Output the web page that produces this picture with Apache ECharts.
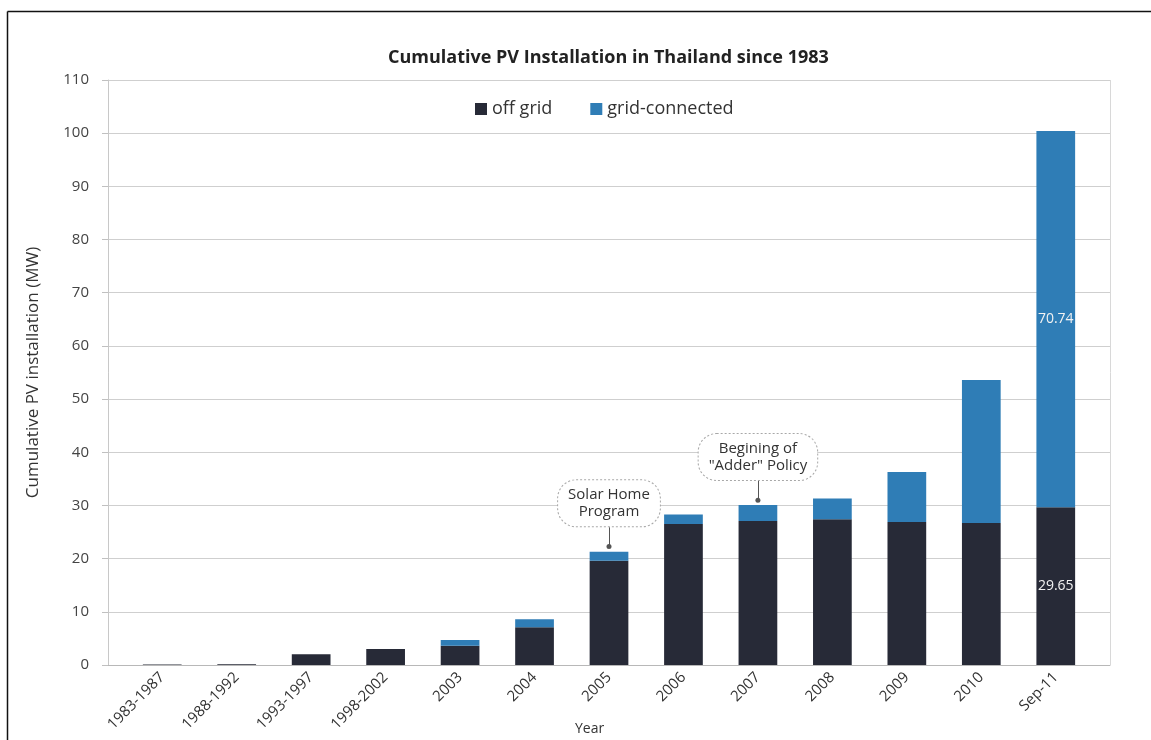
<!DOCTYPE html>
<html>
<head>
<meta charset="utf-8">
<script src="https://cdn.jsdelivr.net/npm/echarts@6/dist/echarts.min.js"></script>
<style>
  html, body { margin: 0; padding: 0; background: #ffffff; }
  #chart { width: 1151px; height: 740px; }
</style>
</head>
<body>
<div id="chart"></div>
<script>
// Periods shown on the horizontal axis
const categories = ['1983-1987', '1988-1992', '1993-1997', '1998-2002', '2003', '2004',
  '2005', '2006', '2007', '2008', '2009', '2010', 'Sep-11'];

// Cumulative installed capacity, MW
const offGrid       = [0.1, 0.15, 2.0, 3.0, 3.6, 7.1, 19.6, 26.5, 27.1, 27.4, 26.9, 26.7, 29.65];
const gridConnected = [0.0, 0.0, 0.0, 0.0, 1.1, 1.5, 1.7, 1.8, 3.0, 3.9, 9.4, 26.9, 70.74];

// Value axis range and step
const yMin = 0;
const yMax = 110;
const yStep = 10;

// Callouts: category, height of the bubble centre, bubble bottom, tip of the pointer
const calloutCats   = ['2005', '2007'];
const calloutTexts  = ['Solar Home\nProgram', 'Begining of\n"Adder" Policy'];
const calloutCentre = [30.4, 39.1];
const calloutTop    = [25.9, 34.7];
const calloutTip    = [22.3, 31.0];

const FONT = '"Open Sans", "Noto Sans", sans-serif';
const DARK = '#272a37';
const BLUE = '#2f7db6';

const last = categories.length - 1;
const labelled = (arr) => arr.map((v, i) => i === last ? { value: v, label: { show: true } } : v);

const chart = echarts.init(document.getElementById('chart'), null, { renderer: 'canvas' });

chart.setOption({
  backgroundColor: '#ffffff',
  animation: false,
  textStyle: { fontFamily: FONT },
  title: {
    text: 'Cumulative PV Installation in Thailand since 1983',
    left: 383,
    top: 44,
    textStyle: { fontFamily: FONT, fontSize: 18, fontWeight: 'bold', color: '#222' }
  },
  legend: {
    data: ['off grid', 'grid-connected'],
    left: 470,
    top: 95,
    icon: 'rect',
    itemWidth: 12,
    itemHeight: 12,
    itemGap: 38,
    textStyle: { fontFamily: FONT, fontSize: 18, color: '#333' }
  },
  grid: [
    // bars
    { left: 125, right: 58, top: 80, bottom: 75 },
    // frame, value axis and horizontal rules
    { left: 108, right: 41, top: 80, bottom: 75 }
  ],
  xAxis: [
    {
      gridIndex: 0,
      type: 'category',
      data: categories,
      axisLine: { show: false },
      axisTick: { show: false },
      axisLabel: { rotate: 45, fontSize: 15, color: '#333', margin: 10, fontFamily: FONT }
    },
    {
      gridIndex: 1,
      type: 'value',
      min: 0, max: 1, interval: 1,
      axisLine: { show: true, lineStyle: { color: '#b8b8b8' } },
      axisTick: { show: false },
      axisLabel: { show: false },
      splitLine: { show: true, lineStyle: { color: '#d8d8d8' } }
    }
  ],
  yAxis: [
    {
      gridIndex: 0,
      type: 'value',
      min: yMin, max: yMax, interval: yStep,
      show: false
    },
    {
      gridIndex: 1,
      type: 'value',
      min: yMin, max: yMax, interval: yStep,
      name: 'Cumulative PV installation (MW)',
      nameLocation: 'middle',
      nameGap: 66,
      nameTextStyle: { fontFamily: FONT, fontSize: 17, color: '#333' },
      axisLine: { show: true, lineStyle: { color: '#c8c8c8' } },
      axisTick: { show: true, length: 6, lineStyle: { color: '#c0c0c0' } },
      axisLabel: { fontSize: 15, color: '#444', margin: 19, fontFamily: FONT },
      splitLine: { show: true, lineStyle: { color: '#cfcfcf' } }
    }
  ],
  series: [
    {
      name: 'off grid',
      type: 'bar',
      stack: 'pv',
      xAxisIndex: 0,
      yAxisIndex: 0,
      barWidth: '52%',
      data: labelled(offGrid),
      itemStyle: { color: DARK },
      label: { show: false, position: 'inside', color: '#f2f2f2', fontSize: 14, fontFamily: FONT, formatter: '{c}' }
    },
    {
      name: 'grid-connected',
      type: 'bar',
      stack: 'pv',
      xAxisIndex: 0,
      yAxisIndex: 0,
      barWidth: '52%',
      data: labelled(gridConnected),
      itemStyle: { color: BLUE },
      label: { show: false, position: 'inside', color: '#f2f2f2', fontSize: 14, fontFamily: FONT, formatter: '{c}' },
      markLine: {
        silent: true,
        animation: false,
        symbol: ['none', 'circle'],
        symbolSize: 5,
        label: { show: false },
        lineStyle: { color: '#555', width: 1, type: 'solid' },
        data: calloutCats.map((c, i) => [
          { coord: [c, calloutTop[i]] },
          { coord: [c, calloutTip[i]] }
        ])
      },
      markPoint: {
        silent: true,
        animation: false,
        symbol: 'circle',
        symbolSize: 1,
        itemStyle: { color: 'rgba(0,0,0,0)' },
        label: {
          show: true,
          position: 'inside',
          formatter: '{b}',
          fontFamily: FONT,
          fontSize: 15,
          lineHeight: 17,
          color: '#333',
          backgroundColor: '#ffffff',
          borderColor: '#a8a8a8',
          borderWidth: 1,
          borderType: 'dotted',
          borderRadius: 18,
          padding: [6, 10]
        },
        data: calloutCats.map((c, i) => ({ name: calloutTexts[i], coord: [c, calloutCentre[i]] }))
      }
    }
  ],
  graphic: [
    {
      type: 'text',
      left: 575,
      top: 722,
      style: { text: 'Year', fontFamily: FONT, fontSize: 14, fill: '#333' }
    },
    {
      type: 'line',
      shape: { x1: 7.5, y1: 11.5, x2: 1151, y2: 11.5 },
      style: { stroke: '#111', lineWidth: 1.5 }
    },
    {
      type: 'line',
      shape: { x1: 7.5, y1: 11.5, x2: 7.5, y2: 740 },
      style: { stroke: '#111', lineWidth: 1.5 }
    }
  ]
});
</script>
</body>
</html>
